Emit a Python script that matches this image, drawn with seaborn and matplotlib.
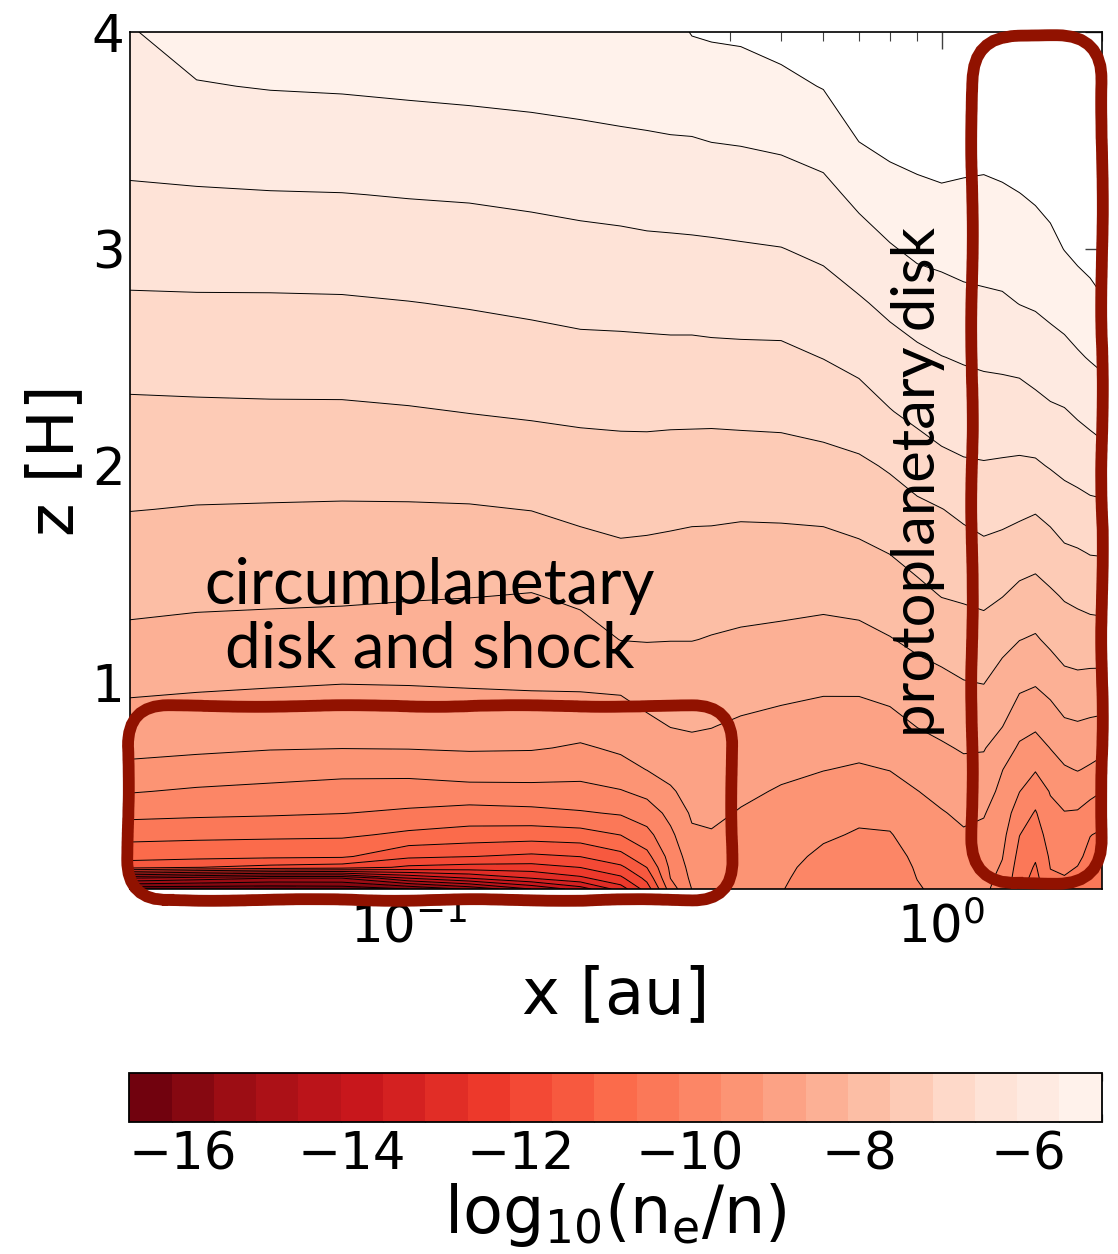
import numpy as np
import matplotlib
matplotlib.use("Agg")
import matplotlib.pyplot as plt
import seaborn as sns
from matplotlib.patches import FancyBboxPatch

sns.set_style("white")
plt.rcParams.update({
    "font.family": ["DejaVu Sans"],
    "mathtext.fontset": "dejavusans",
    "axes.linewidth": 1.2,
    "axes.edgecolor": "black",
    "text.color": "black",
    "axes.labelcolor": "black",
    "xtick.color": "black",
    "ytick.color": "black",
})

# ---------------- data ----------------
x_au = [0.03, 0.04, 0.055, 0.075, 0.1, 0.13, 0.17, 0.21, 0.25, 0.28, 0.31, 0.34,
        0.37, 0.42, 0.5, 0.6, 0.7, 0.8, 0.9, 1.0, 1.1, 1.2, 1.3, 1.4, 1.5, 1.6,
        1.7, 1.8, 1.9, 2.0]
z_H = [0.05, 0.1, 0.15, 0.2, 0.3, 0.4, 0.5, 0.6, 0.7, 0.8, 1.0, 1.2, 1.4, 1.6,
       1.8, 2.0, 2.25, 2.5, 2.75, 3.0, 3.25, 3.5, 3.75, 4.0]

log_ne_over_n = [
    [-16.53, -16.53, -16.53, -16.48, -16.13, -15.53, -14.62, -13.88, -12.88, -11.88, -10.38, -9.62, -9.46, -9.46, -9.61, -9.88, -9.98, -9.96, -9.68, -9.48, -9.51, -9.53, -9.83, -10.43, -10.83, -10.21, -10.23, -10.28, -10.33, -10.36],
    [-14.63, -14.88, -15.13, -15.13, -14.13, -13.62, -13.12, -12.73, -12.23, -11.48, -10.12, -9.53, -9.38, -9.43, -9.57, -9.86, -9.96, -9.96, -9.62, -9.46, -9.44, -9.48, -9.76, -10.43, -10.78, -10.18, -10.15, -10.21, -10.31, -10.33],
    [-11.43, -11.62, -11.78, -11.88, -12.23, -12.33, -12.33, -12.12, -11.73, -11.12, -10.03, -9.46, -9.33, -9.41, -9.53, -9.81, -9.91, -9.91, -9.57, -9.41, -9.38, -9.42, -9.68, -10.36, -10.68, -10.12, -10.07, -10.14, -10.27, -10.29],
    [-10.95, -10.98, -11.03, -11.06, -11.53, -11.62, -11.73, -11.62, -11.28, -10.78, -9.93, -9.38, -9.28, -9.36, -9.48, -9.73, -9.83, -9.83, -9.51, -9.36, -9.33, -9.36, -9.61, -10.28, -10.57, -10.06, -9.99, -10.06, -10.23, -10.26],
    [-10.47, -10.51, -10.53, -10.55, -10.73, -10.83, -10.88, -10.83, -10.62, -10.28, -9.73, -9.21, -9.16, -9.26, -9.38, -9.56, -9.68, -9.66, -9.39, -9.26, -9.18, -9.23, -9.49, -10.12, -10.37, -9.91, -9.82, -9.87, -10.12, -10.18],
    [-9.98, -10.03, -10.07, -10.12, -10.21, -10.33, -10.28, -10.18, -10.08, -9.88, -9.49, -9.06, -9.05, -9.16, -9.28, -9.41, -9.52, -9.48, -9.27, -9.16, -9.04, -9.10, -9.37, -9.88, -10.17, -9.75, -9.65, -9.67, -9.82, -9.97],
    [-9.60, -9.70, -9.76, -9.82, -9.85, -9.80, -9.76, -9.75, -9.66, -9.49, -9.19, -8.95, -8.94, -9.05, -9.17, -9.28, -9.35, -9.30, -9.14, -9.00, -8.89, -8.93, -9.25, -9.62, -9.90, -9.60, -9.42, -9.40, -9.51, -9.62],
    [-9.24, -9.32, -9.42, -9.49, -9.48, -9.40, -9.44, -9.49, -9.31, -9.12, -8.98, -8.83, -8.83, -8.93, -9.04, -9.12, -9.18, -9.12, -8.97, -8.84, -8.74, -8.77, -9.12, -9.42, -9.60, -9.36, -9.18, -9.11, -9.19, -9.30],
    [-9.01, -9.05, -9.10, -9.12, -9.11, -9.08, -9.09, -9.19, -9.05, -8.93, -8.80, -8.71, -8.73, -8.81, -8.90, -8.98, -9.02, -8.95, -8.79, -8.68, -8.59, -8.60, -8.88, -9.20, -9.33, -9.12, -8.95, -8.89, -8.95, -9.01],
    [-8.84, -8.88, -8.93, -8.96, -8.94, -8.91, -8.90, -8.94, -8.88, -8.73, -8.62, -8.60, -8.62, -8.69, -8.76, -8.83, -8.85, -8.78, -8.62, -8.53, -8.44, -8.44, -8.62, -8.97, -9.06, -8.91, -8.72, -8.68, -8.72, -8.75],
    [-8.52, -8.56, -8.59, -8.62, -8.61, -8.59, -8.57, -8.55, -8.53, -8.41, -8.37, -8.37, -8.39, -8.44, -8.49, -8.54, -8.53, -8.45, -8.32, -8.24, -8.15, -8.12, -8.32, -8.52, -8.59, -8.45, -8.27, -8.24, -8.27, -8.28],
    [-8.23, -8.28, -8.32, -8.33, -8.35, -8.36, -8.36, -8.30, -8.12, -8.11, -8.12, -8.12, -8.15, -8.19, -8.24, -8.28, -8.25, -8.15, -8.03, -7.94, -7.86, -7.83, -7.99, -8.12, -8.18, -8.03, -7.91, -7.87, -7.85, -7.84],
    [-8.01, -8.04, -8.05, -8.07, -8.10, -8.12, -8.15, -8.05, -7.92, -7.91, -7.93, -7.94, -7.96, -7.98, -7.98, -8.02, -7.98, -7.88, -7.75, -7.62, -7.58, -7.53, -7.62, -7.76, -7.82, -7.70, -7.59, -7.53, -7.47, -7.45],
    [-7.82, -7.84, -7.86, -7.87, -7.88, -7.89, -7.90, -7.78, -7.70, -7.71, -7.73, -7.75, -7.76, -7.78, -7.78, -7.78, -7.71, -7.62, -7.48, -7.39, -7.32, -7.24, -7.30, -7.39, -7.45, -7.35, -7.21, -7.17, -7.11, -7.10],
    [-7.62, -7.65, -7.66, -7.67, -7.67, -7.66, -7.62, -7.53, -7.49, -7.51, -7.53, -7.55, -7.55, -7.57, -7.56, -7.53, -7.46, -7.35, -7.23, -7.14, -7.03, -6.95, -6.98, -7.03, -7.09, -6.98, -6.85, -6.80, -6.74, -6.73],
    [-7.44, -7.45, -7.46, -7.46, -7.44, -7.42, -7.38, -7.32, -7.29, -7.30, -7.31, -7.32, -7.33, -7.32, -7.32, -7.27, -7.21, -7.08, -6.90, -6.75, -6.68, -6.66, -6.68, -6.70, -6.69, -6.60, -6.52, -6.46, -6.40, -6.34],
    [-7.21, -7.20, -7.19, -7.19, -7.16, -7.12, -7.08, -7.05, -7.04, -7.03, -7.04, -7.04, -7.04, -7.03, -7.01, -6.95, -6.85, -6.65, -6.51, -6.42, -6.38, -6.36, -6.35, -6.34, -6.28, -6.20, -6.16, -6.07, -5.99, -5.91],
    [-6.96, -6.94, -6.93, -6.92, -6.89, -6.86, -6.81, -6.77, -6.76, -6.75, -6.75, -6.75, -6.74, -6.73, -6.72, -6.62, -6.49, -6.34, -6.22, -6.14, -6.09, -6.05, -6.03, -6.00, -5.91, -5.83, -5.77, -5.68, -5.60, -5.53],
    [-6.69, -6.68, -6.68, -6.67, -6.64, -6.60, -6.55, -6.50, -6.49, -6.48, -6.46, -6.46, -6.44, -6.43, -6.43, -6.33, -6.18, -6.02, -5.90, -5.82, -5.76, -5.73, -5.70, -5.62, -5.58, -5.51, -5.44, -5.35, -5.26, -5.16],
    [-6.44, -6.43, -6.42, -6.42, -6.38, -6.35, -6.30, -6.26, -6.24, -6.22, -6.21, -6.20, -6.19, -6.17, -6.14, -6.04, -5.86, -5.67, -5.53, -5.49, -5.43, -5.40, -5.38, -5.32, -5.33, -5.24, -5.12, -5.03, -4.98, -4.96],
    [-6.18, -6.17, -6.15, -6.14, -6.11, -6.09, -6.05, -6.01, -5.98, -5.95, -5.94, -5.93, -5.91, -5.88, -5.85, -5.76, -5.51, -5.33, -5.25, -5.19, -5.22, -5.23, -5.19, -5.14, -5.08, -5.01, -4.93, -4.91, -4.88, -4.88],
    [-5.99, -5.91, -5.88, -5.87, -5.83, -5.81, -5.77, -5.73, -5.70, -5.68, -5.66, -5.65, -5.62, -5.60, -5.55, -5.44, -5.12, -5.00, -4.93, -4.91, -4.93, -4.96, -4.93, -4.88, -4.83, -4.83, -4.83, -4.83, -4.83, -4.83],
    [-5.82, -5.65, -5.61, -5.59, -5.56, -5.53, -5.50, -5.47, -5.43, -5.41, -5.38, -5.38, -5.35, -5.32, -5.23, -5.11, -4.96, -4.83, -4.78, -4.78, -4.78, -4.78, -4.73, -4.73, -4.73, -4.73, -4.73, -4.73, -4.73, -4.73],
    [-5.65, -5.48, -5.46, -5.43, -5.41, -5.38, -5.36, -5.33, -5.31, -5.28, -5.26, -5.11, -5.08, -5.06, -4.98, -4.88, -4.73, -4.63, -4.63, -4.63, -4.63, -4.63, -4.63, -4.63, -4.63, -4.63, -4.63, -4.63, -4.63, -4.63],
]

level_min, level_max, n_levels = -16.63, -5.13, 24
cbar_ticks = [-16, -14, -12, -10, -8, -6]
y_ticks = [1, 2, 3, 4]

# ---------------- figure ----------------
W, H = 1118, 1254
fig = plt.figure(figsize=(W / 100, H / 100), dpi=100)
ax = fig.add_axes([130 / W, 1 - 889 / H, 972 / W, 857 / H])

levels = np.linspace(level_min, level_max, n_levels)
V = np.array(log_ne_over_n)
cf = ax.contourf(x_au, z_H, V, levels=levels, cmap="Reds_r")
ax.contour(x_au, z_H, V, levels=levels, colors="k", linewidths=0.7,
           linestyles="solid")

ax.set_xscale("log")
ax.set_xlim(0.03, 2.0)
ax.set_ylim(0.05, 4.0)
ax.set_yticks(y_ticks)
ax.set_yticklabels([str(t) for t in y_ticks])
ax.tick_params(which="both", direction="in", top=True, right=True,
               colors="0.25", labelcolor="black")
ax.tick_params(which="major", length=12, width=1.0, labelsize=37)
ax.tick_params(axis="x", which="major", pad=10)
ax.tick_params(axis="y", which="major", pad=4)
ax.tick_params(which="minor", length=6.5, width=0.8)

ax.set_xlabel("x [au]", fontsize=46)
ax.set_ylabel("z [H]", fontsize=46)
ax.xaxis.set_label_coords(0.5, (889 - 995) / 857)
ax.xaxis.label.set_va("center")
ax.yaxis.set_label_coords((55 - 130) / 972, 0.5)
ax.yaxis.label.set_va("center")

# colorbar
cax = fig.add_axes([129.3 / W, 1 - 1121.7 / H, 972.4 / W, 48.4 / H])
cb = fig.colorbar(cf, cax=cax, orientation="horizontal")
cb.set_ticks(cbar_ticks)
cb.set_ticks(levels, minor=True)
cb.ax.tick_params(which="major", length=0, labelsize=37, pad=6,
                  labelcolor="black")
cb.ax.tick_params(which="minor", length=6, width=0.9, direction="in",
                  top=True, bottom=True, color="0.25")
cb.outline.set_linewidth(1.3)
cb.set_label(r"$\mathrm{log_{10}(n_e/n)}$", fontsize=47, labelpad=1,
             color="black")

# annotations
fig.text(430 / W, 1 - 618 / H, "circumplanetary\ndisk and shock",
         family=["Lato", "DejaVu Sans"], fontsize=46, ha="center", va="center",
         multialignment="center", linespacing=1.12, color="black")
fig.text(918 / W, 1 - 482 / H, "protoplanetary disk",
         family=["Lato", "DejaVu Sans"], fontsize=43, ha="center", va="center",
         rotation=90, color="black")

box_color = "#911200"
for (l, r, t, b, rad) in [(128, 732, 706, 900, 40), (972, 1102, 36, 883, 45)]:
    patch = FancyBboxPatch((l / 100, (H - b) / 100), (r - l) / 100, (b - t) / 100,
                           boxstyle=f"round,pad=0,rounding_size={rad / 100}",
                           transform=fig.dpi_scale_trans, fill=False,
                           edgecolor=box_color, linewidth=8.5, zorder=10)
    patch.set_sketch_params(scale=0.8, length=300, randomness=6)
    fig.add_artist(patch)

fig.savefig("out.png", dpi=100)
